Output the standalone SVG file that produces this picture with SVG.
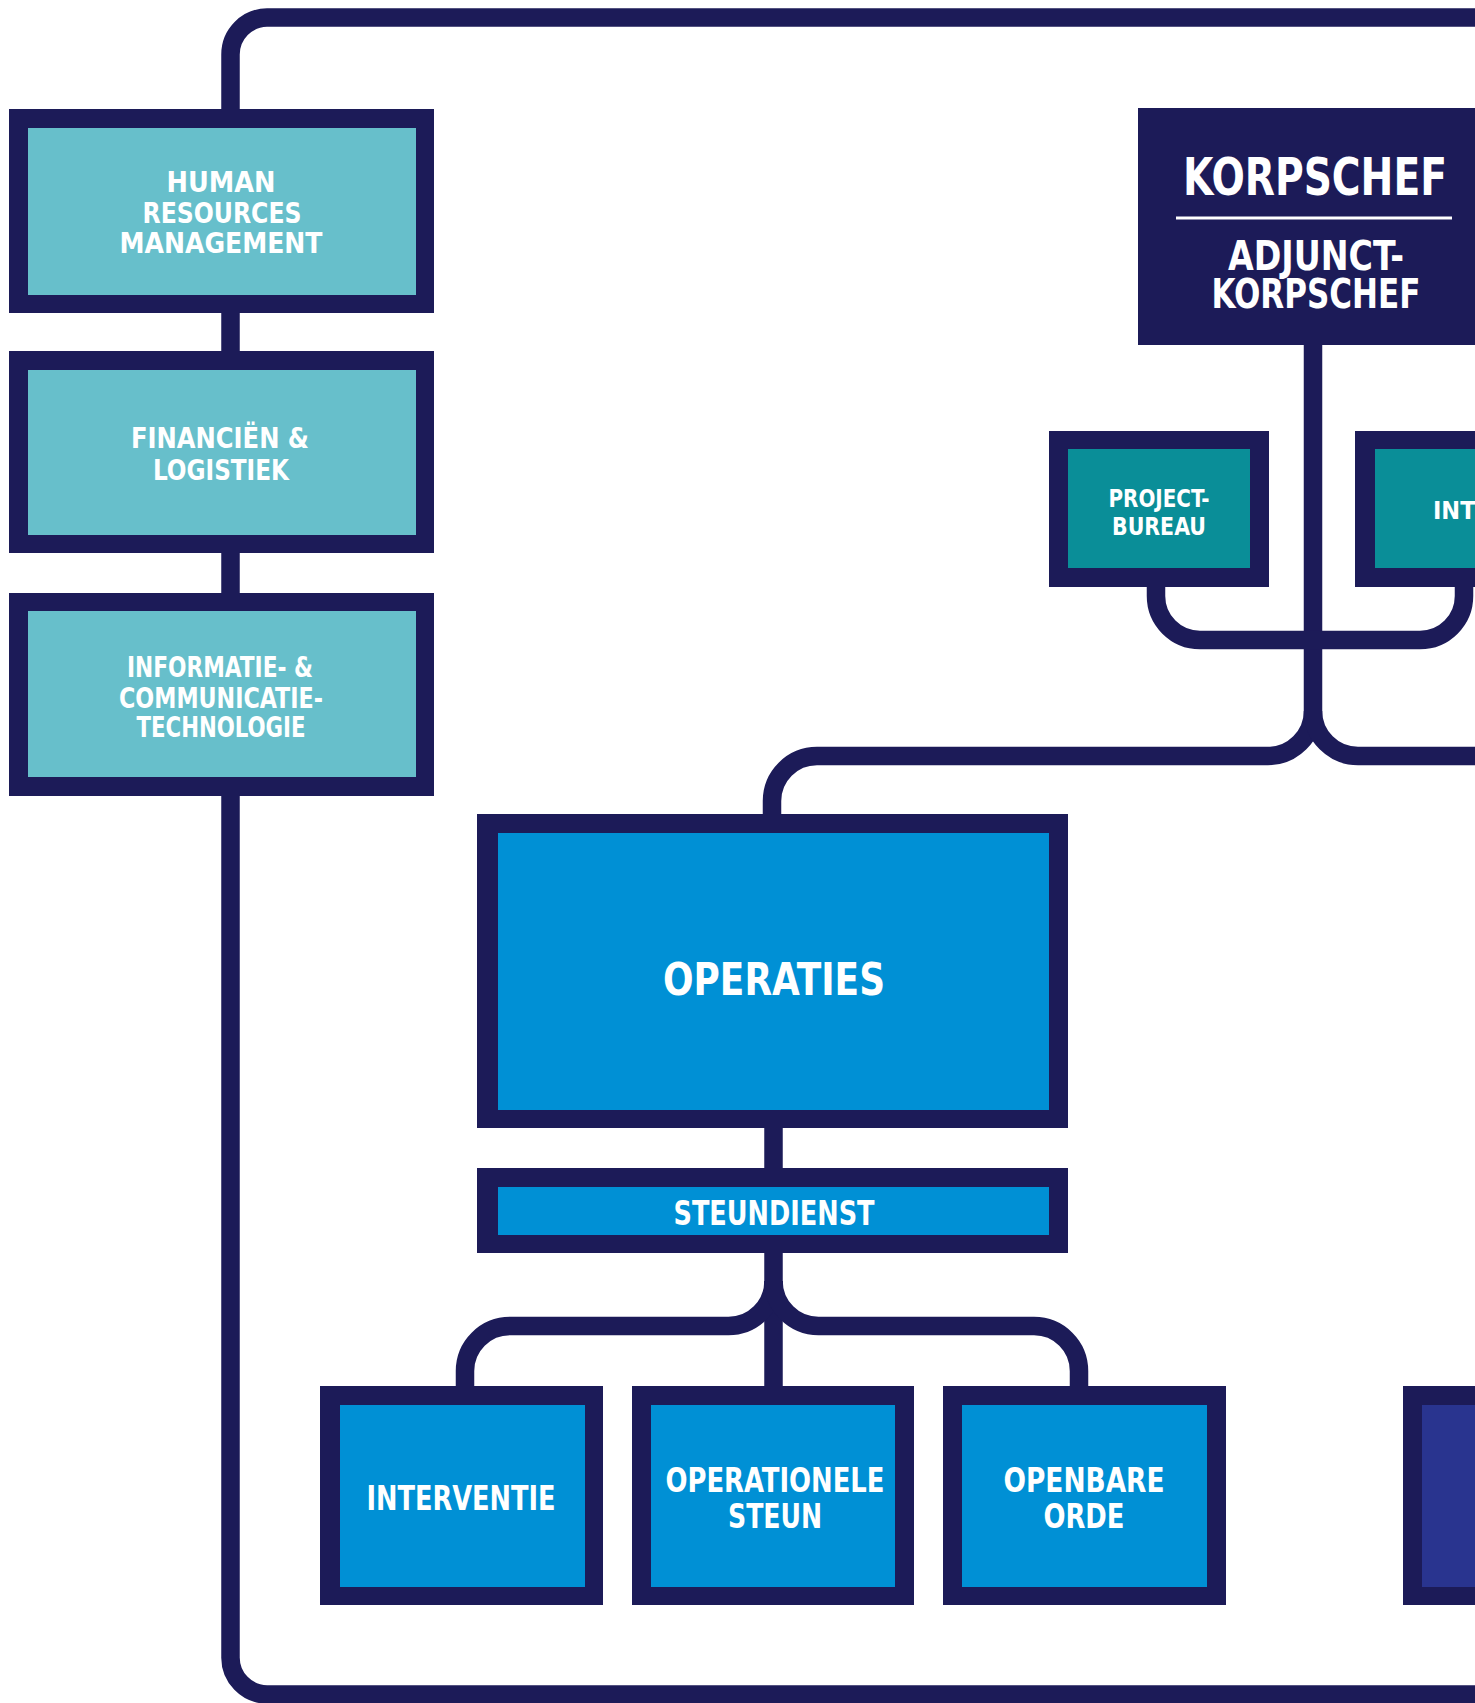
<svg xmlns="http://www.w3.org/2000/svg" width="1475" height="1703" viewBox="0 0 1475 1703">
<style>
.line{fill:none;stroke:#1c1b58;stroke-width:18.5}
.out{fill:#1c1b58}
.lt{fill:#67bfcb}
.dt{fill:#0a8e98}
.bl{fill:#0090d5}
.db{fill:#29348f}
text{font-family:"Liberation Sans Narrow","DejaVu Sans Condensed","Liberation Sans",sans-serif;font-weight:bold;fill:#ffffff;text-anchor:middle}
</style>
<rect x="0" y="0" width="1475" height="1703" fill="#ffffff"/>
<g id="connectors">
<path class="line" d="M1490,17.5 H267 A37,37 0 0 0 230.5,54.5 V1657 A37,37 0 0 0 267,1694.5 H1490"/>
<path class="line" d="M1313,340 V711 A45,45 0 0 1 1268,756 H817 A45,45 0 0 0 772,801 V820"/>
<path class="line" d="M1313,711 A45,45 0 0 0 1358,756 H1490"/>
<path class="line" d="M1156,580 V596 A44,44 0 0 0 1200,640 H1420 A44,44 0 0 0 1464,596 V580"/>
<path class="line" d="M773.5,1120 V1175"/>
<path class="line" d="M773.5,1245 V1392"/>
<path class="line" d="M773.5,1281 A45,45 0 0 1 728.5,1326 H510 A45,45 0 0 0 465,1371 V1392"/>
<path class="line" d="M773.5,1281 A45,45 0 0 0 818.5,1326 H1034 A45,45 0 0 1 1079,1371 V1392"/>
</g>
<g id="hr">
<rect class="out" x="9" y="109" width="425" height="204"/>
<rect class="lt" x="28" y="128" width="388" height="167"/>
<text x="221" y="192" font-size="29" textLength="109" lengthAdjust="spacingAndGlyphs">HUMAN</text>
<text x="222" y="223" font-size="29" textLength="159" lengthAdjust="spacingAndGlyphs">RESOURCES</text>
<text x="221" y="253" font-size="29" textLength="203" lengthAdjust="spacingAndGlyphs">MANAGEMENT</text>
</g>
<g id="fin">
<rect class="out" x="9" y="351" width="425" height="202"/>
<rect class="lt" x="28" y="370" width="388" height="165"/>
<text x="220" y="448" font-size="29" textLength="178" lengthAdjust="spacingAndGlyphs">FINANCIËN &amp;</text>
<text x="221" y="480" font-size="29" textLength="136" lengthAdjust="spacingAndGlyphs">LOGISTIEK</text>
</g>
<g id="ict">
<rect class="out" x="9" y="593" width="425" height="203"/>
<rect class="lt" x="28" y="611" width="388" height="166"/>
<text x="220" y="677" font-size="28" textLength="186" lengthAdjust="spacingAndGlyphs">INFORMATIE- &amp;</text>
<text x="221" y="708" font-size="28" textLength="204" lengthAdjust="spacingAndGlyphs">COMMUNICATIE-</text>
<text x="221" y="737" font-size="28" textLength="169" lengthAdjust="spacingAndGlyphs">TECHNOLOGIE</text>
</g>
<g id="korpschef">
<rect class="out" x="1138" y="108" width="360" height="237"/>
<text x="1315" y="195" font-size="52" textLength="264" lengthAdjust="spacingAndGlyphs">KORPSCHEF</text>
<rect x="1176" y="216.5" width="276" height="3" fill="#ffffff"/>
<text x="1316" y="270" font-size="40" textLength="176" lengthAdjust="spacingAndGlyphs">ADJUNCT-</text>
<text x="1316" y="308" font-size="40" textLength="209" lengthAdjust="spacingAndGlyphs">KORPSCHEF</text>
</g>
<g id="projectbureau">
<rect class="out" x="1049" y="431" width="220" height="156"/>
<rect class="dt" x="1068" y="449" width="182" height="119"/>
<text x="1159" y="507" font-size="25" textLength="101" lengthAdjust="spacingAndGlyphs">PROJECT-</text>
<text x="1159" y="535" font-size="25" textLength="94" lengthAdjust="spacingAndGlyphs">BUREAU</text>
</g>
<g id="int">
<rect class="out" x="1355" y="431" width="220" height="156"/>
<rect class="dt" x="1375" y="449" width="182" height="119"/>
<text x="1433" y="519" font-size="25" style="text-anchor:start">INT</text>
</g>
<g id="operaties">
<rect class="out" x="477" y="814" width="591" height="314"/>
<rect class="bl" x="498" y="833" width="551" height="277"/>
<text x="774" y="995" font-size="44" textLength="222" lengthAdjust="spacingAndGlyphs">OPERATIES</text>
</g>
<g id="steundienst">
<rect class="out" x="477" y="1168" width="591" height="85"/>
<rect class="bl" x="498" y="1187" width="551" height="48"/>
<text x="774" y="1225" font-size="33" textLength="201" lengthAdjust="spacingAndGlyphs">STEUNDIENST</text>
</g>
<g id="interventie">
<rect class="out" x="320" y="1386" width="283" height="219"/>
<rect class="bl" x="340" y="1405" width="245" height="182"/>
<text x="461" y="1510" font-size="34" textLength="189" lengthAdjust="spacingAndGlyphs">INTERVENTIE</text>
</g>
<g id="operationele-steun">
<rect class="out" x="632" y="1386" width="282" height="219"/>
<rect class="bl" x="651" y="1405" width="244" height="182"/>
<text x="775" y="1492" font-size="34" textLength="219" lengthAdjust="spacingAndGlyphs">OPERATIONELE</text>
<text x="775" y="1528" font-size="34" textLength="94" lengthAdjust="spacingAndGlyphs">STEUN</text>
</g>
<g id="openbare-orde">
<rect class="out" x="943" y="1386" width="283" height="219"/>
<rect class="bl" x="962" y="1405" width="245" height="182"/>
<text x="1084" y="1492" font-size="34" textLength="161" lengthAdjust="spacingAndGlyphs">OPENBARE</text>
<text x="1084" y="1528" font-size="34" textLength="81" lengthAdjust="spacingAndGlyphs">ORDE</text>
</g>
<g id="right-box">
<rect class="out" x="1403" y="1386" width="100" height="219"/>
<rect class="db" x="1422" y="1405" width="80" height="182"/>
</g>
</svg>
